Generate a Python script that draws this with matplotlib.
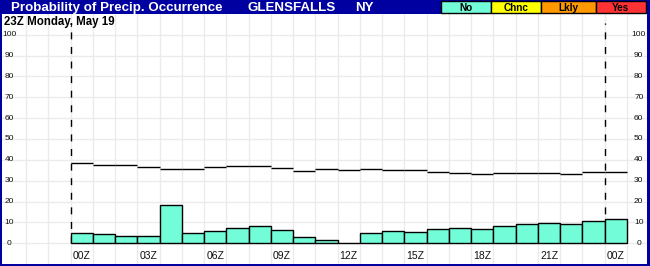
import matplotlib
matplotlib.use('Agg')
import matplotlib.pyplot as plt
from matplotlib.patches import Rectangle

# ---------------------------------------------------------------
# data
# ---------------------------------------------------------------
hours = list(range(25))
pop = [4.8, 4.4, 3.4, 3.4, 18.4, 4.8, 5.8, 7.3, 8.2, 6.3, 2.9, 1.5, 0.0,
       4.8, 5.8, 5.3, 6.8, 7.3, 6.8, 8.2, 9.2, 9.7, 9.2, 10.6, 11.6]
clim = [38.5, 37.6, 37.6, 36.6, 35.7, 35.7, 36.6, 37.1, 37.1, 36.2, 34.7,
        35.7, 35.2, 35.7, 35.2, 35.2, 34.3, 33.9, 33.4, 33.9, 33.9, 33.9,
        33.4, 34.3, 34.3]
tick_hours = [0, 3, 6, 9, 12, 15, 18, 21, 24]
tick_labels = ['00Z', '03Z', '06Z', '09Z', '12Z', '15Z', '18Z', '21Z', '00Z']
y_levels = list(range(0, 101, 10))
legend_names = ['No', 'Chnc', 'Lkly', 'Yes']
legend_colors = ['#73FCD8', '#FFFF00', '#FF9900', '#FF3333']

title = 'Probability of Precip. Occurrence'
station = 'GLENSFALLS'
state = 'NY'
subtitle = '23Z Monday, May 19'

BLUE = '#0000A0'
W, H = 650, 266

plt.rcParams['font.family'] = ['Liberation Sans', 'DejaVu Sans']

fig = plt.figure(figsize=(W / 100, H / 100), dpi=100, facecolor=BLUE)
ax = fig.add_axes([2 / W, 2 / H, 645 / W, 250 / H])
ax.set_facecolor('white')
ax.set_xlim(-3.08, 25.9)
ax.set_ylim(-10, 110)
for s in ax.spines.values():
    s.set_visible(False)
ax.set_xticks([])
ax.set_yticks([])

# grid
for h in range(-2, 26):
    ax.axvline(h, color='#EBEBEB', lw=1, zorder=0)
for y in y_levels:
    ax.axhline(y, color='#EBEBEB', lw=1, zorder=0)

# dashed markers at start / end of period
ax.vlines([0, 24], 0, 105.5, colors='black', lw=1, linestyles=(0, (5, 5.5)), zorder=1)

# bars
ax.bar(hours, pop, width=1.0, align='edge', color=legend_colors[0],
       edgecolor='black', linewidth=1, zorder=2)

# climatology segments
ax.hlines(clim, hours, [h + 1 for h in hours], colors='black', lw=1, zorder=3)

# tick labels
for h, lab in zip(tick_hours, tick_labels):
    ax.text(h + 0.5, -6.1, lab, ha='center', va='center', fontsize=7.5, color='#111111')
for y in y_levels:
    ax.text(-2.75, y, str(y), ha='center', va='center', fontsize=6, color='#111111')
    ax.text(25.53, y, str(y), ha='center', va='center', fontsize=6, color='#111111')

# header
fig.text(11 / W, 1 - 10.8 / H, title, color='white', fontsize=9.6,
         fontweight='bold', va='baseline')
fig.text(247 / W, 1 - 10.8 / H, station, color='white', fontsize=9.6,
         fontweight='bold', va='baseline')
fig.text(355 / W, 1 - 10.8 / H, state, color='white', fontsize=9.6,
         fontweight='bold', va='baseline')
fig.text(4 / W, 1 - 25.5 / H, subtitle, color='black', fontsize=8.3,
         fontweight='bold', va='baseline')

# legend boxes
edges = [440.7, 490.7, 540.7, 595.7, 646.0]
for i, (name, col) in enumerate(zip(legend_names, legend_colors)):
    x0, x1 = edges[i], edges[i + 1]
    fig.patches.append(Rectangle((x0 / W, 1 - 13.3 / H), (x1 - x0) / W, 12 / H,
                                 transform=fig.transFigure, facecolor=col,
                                 edgecolor='black', lw=1))
    fig.text((x0 + x1) / 2 / W, 1 - 11 / H, name, ha='center', va='baseline',
             fontsize=7.2, fontweight='bold', color='black')

fig.savefig('out.png', dpi=100, facecolor=BLUE)
